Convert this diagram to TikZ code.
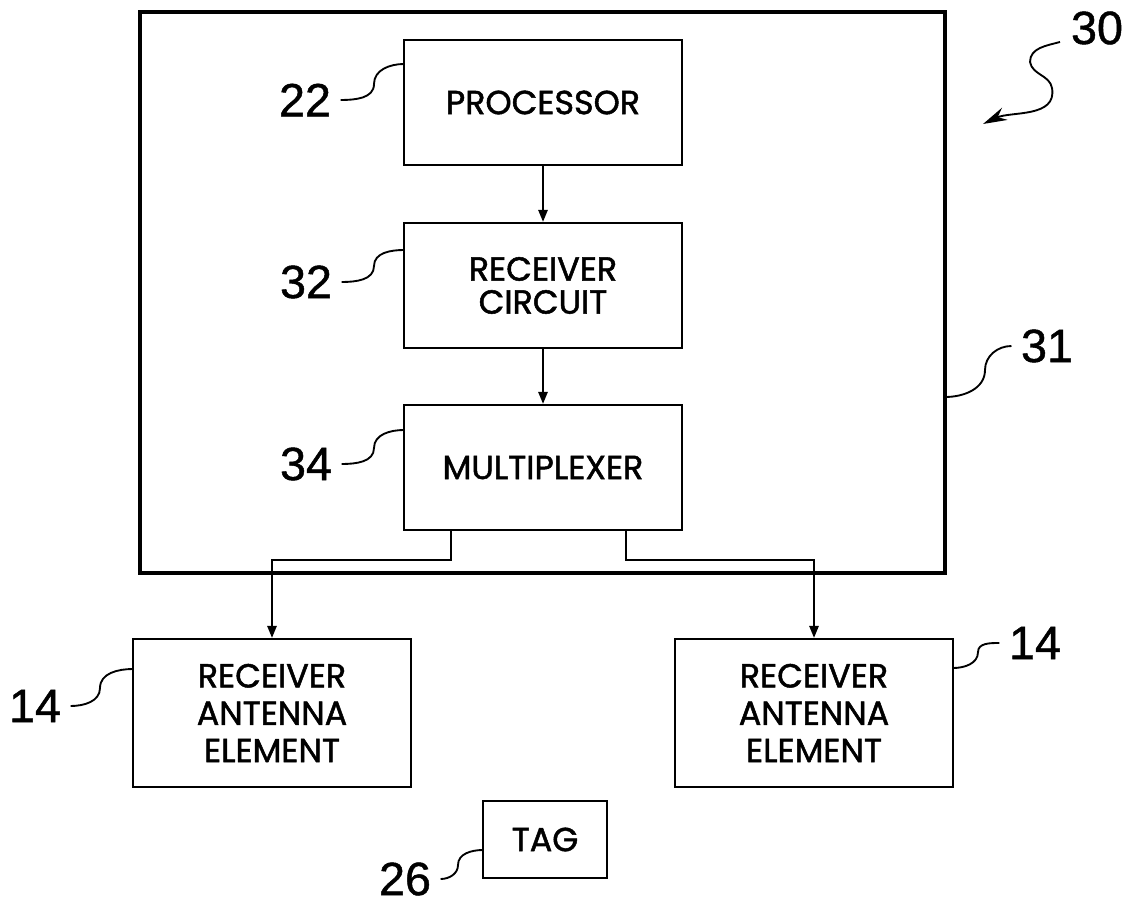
\documentclass[tikz,border=0pt]{standalone}
\usepackage{fontspec}
\setmainfont{Poppins}[RawFeature={embolden=1.5}]
\newfontfamily\numfont{Liberation Sans}[RawFeature={embolden=1}]
\usetikzlibrary{arrows.meta,calc}
\begin{document}
\begin{tikzpicture}[x=0.75pt,y=-0.75pt,
  box/.style={draw, line width=1.7pt, inner sep=0pt, align=center, font=\fontsize{25}{25}\selectfont},
  bigbox/.style={box, minimum width=208.5pt, minimum height=93.75pt},
  antbox/.style={box, minimum width=208.5pt, minimum height=111pt, font=\fontsize{25}{28}\selectfont},
  outerbox/.style={draw, line width=3pt, inner sep=0pt, minimum width=603.75pt, minimum height=420.75pt},
  conn/.style={line width=1.4pt, -{Triangle[length=9pt,width=7pt]}},
  leader/.style={line width=1.4pt},
  num/.style={font=\numfont\fontsize{35}{35}\selectfont, inner ysep=0pt, inner xsep=7pt}
]
\useasboundingbox (0,0) rectangle (1126,905);

\node[outerbox] (sys) at (542.5,292.5) {};

\node[bigbox] (proc) at (543,102.5) {PROCESSOR};
\node[bigbox, font=\fontsize{25}{24.75}\selectfont] (rc) at (543,285.5) {RECEIVER\\CIRCUIT};
\node[bigbox] (mux) at (543,467.5) {MULTIPLEXER};
\node[antbox] (antL) at (272,713) {RECEIVER\\ANTENNA\\ELEMENT};
\node[antbox] (antR) at (814,713) {RECEIVER\\ANTENNA\\ELEMENT};
\node[box, minimum width=93pt, minimum height=57.75pt] (tag) at (545,839.5) {TAG};

\draw[conn] (proc.south) -- (rc.north);
\draw[conn] (rc.south) -- (mux.north);
\draw[conn] ($(mux.south west)+(48,0)$) -- ++(0,29) -| (antL.north);
\draw[conn] ($(mux.south east)+(-57,0)$) -- ++(0,29) -| (antR.north);

% labels
\node[num] (l30) at (1097,28) {30};
\node[num] (l22) at (305,100) {22};
\node[num] (l32) at (306,282) {32};
\node[num] (l34) at (306,464) {34};
\node[num] (l14a) at (35,706) {14};
\node[num] (l31) at (1047,346) {31};
\node[num] (l14b) at (1035,643) {14};
\node[num] (l26) at (405,879) {26};

\coordinate (m22) at (374,84);  \coordinate (e22) at (404,64);
\coordinate (m32) at (374,266); \coordinate (e32) at (404,250);
\coordinate (m34) at (374,448); \coordinate (e34) at (404,430);
\coordinate (m14a) at (100,688); \coordinate (e14a) at (133,669);
\coordinate (e31) at (945,397); \coordinate (m31) at (985,370);
\coordinate (e14b) at (953,668); \coordinate (m14b) at (978,652);
\coordinate (m26) at (458,865); \coordinate (e26) at (483,850);

\draw[leader] (l22.east) to[out=0,in=270] (m22) to[out=90,in=180] (e22);
\draw[leader] (l32.east) to[out=0,in=270] (m32) to[out=90,in=180] (e32);
\draw[leader] (l34.east) to[out=0,in=270] (m34) to[out=90,in=180] (e34);
\draw[leader] (l14a.east) to[out=0,in=270] (m14a) to[out=90,in=180] (e14a);
\draw[leader] (l26.east) to[out=0,in=270] (m26) to[out=90,in=180] (e26);
\draw[leader] (e31) to[out=0,in=270] (m31) to[out=90,in=180] (l31.west);
\draw[leader] (e14b) to[out=0,in=270] (m14b) to[out=90,in=180] (l14b.west);

\coordinate (s30) at (1060,42);
\coordinate (a30) at (983,124);
\draw[leader, -{Stealth[length=18pt,width=10pt]}] (s30) to[out=195,in=90] (1030,62) to[out=-80,in=100] (1052,88) to[out=280,in=25] (a30);
\end{tikzpicture}
\end{document}
